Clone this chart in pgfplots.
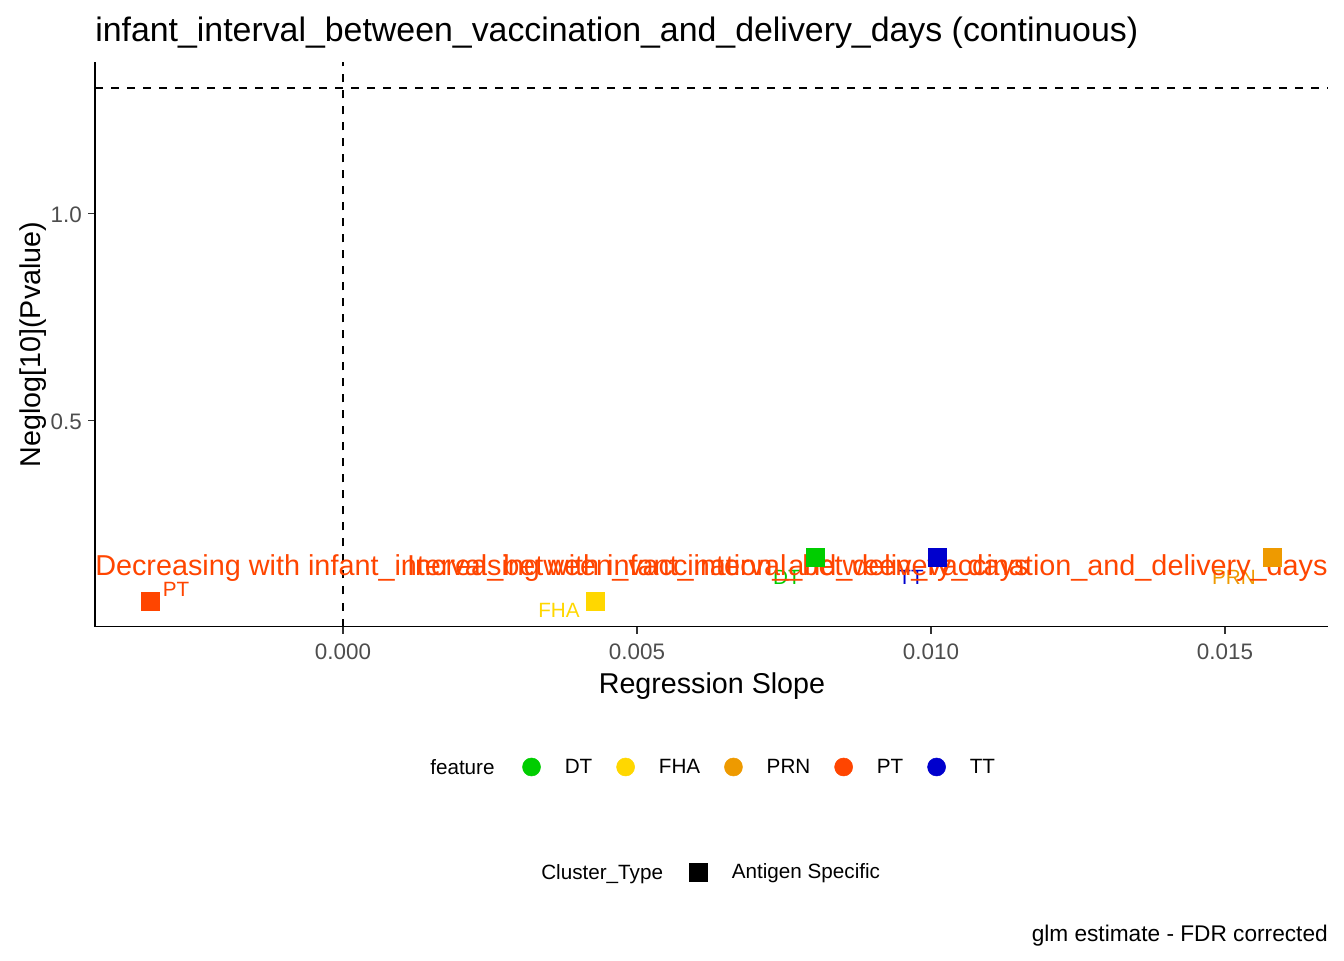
\documentclass[border=0pt]{standalone}
\usepackage{fontspec}
\setmainfont{Liberation Sans}
\usepackage{pgfplots}
\pgfplotsset{compat=1.18}
\definecolor{dtc}{HTML}{00CD00}
\definecolor{fhac}{HTML}{FFD700}
\definecolor{prnc}{HTML}{EE9A00}
\definecolor{ptc}{HTML}{FF4500}
\definecolor{ttc}{HTML}{0000CD}
\definecolor{tickgray}{HTML}{4D4D4D}
\begin{document}
\begin{tikzpicture}
\useasboundingbox (0,0) rectangle (1008pt,720pt);
\begin{axis}[
  at={(71.25pt,250.125pt)}, anchor=south west,
  scale only axis, width=924.75pt, height=423pt,
  xmin=-0.0042177, xmax=0.016752, ymin=0.0039, ymax=1.3636,
  clip=false,
  axis x line*=bottom, axis y line*=left,
  axis line style={-, line width=1.4pt, black},
  scaled x ticks=false, scaled y ticks=false,
  xtick={0,0.005,0.010,0.015}, xticklabels={0.000,0.005,0.010,0.015},
  ytick={0.5,1}, yticklabels={0.5,1.0},
  tick align=outside, major tick length=5.25pt,
  tick style={line width=1.1pt, black!80},
  ticklabel style={font=\fontsize{16.8}{19}\selectfont, text=tickgray, inner sep=0pt},
  xticklabel style={anchor=north, yshift=-7.5pt},
  yticklabel style={anchor=east, xshift=-4.5pt, yshift=-1pt},
  xlabel={Regression Slope},
  xlabel style={at={(axis description cs:0.5004,-0.1186)}, anchor=base, font=\fontsize{21.5}{25}\selectfont, inner sep=0pt},
  ylabel={Neglog[10](Pvalue)},
  ylabel style={at={(axis description cs:-0.0446,0.5)}, rotate=0, anchor=base, font=\fontsize{21.5}{25}\selectfont, inner sep=0pt},
  legend columns=-1,
  legend cell align=left,
  legend style={at={(0.3463,-0.2491)}, anchor=west, draw=none, fill=none, inner sep=0pt, column sep=18pt,
    nodes={inner sep=0pt, font=\fontsize{15.5}{18}\selectfont}},
]
% reference lines
\addplot[forget plot, black, line width=1.5pt, dash pattern=on 6pt off 6pt] coordinates {(0,0.0039) (0,1.3636)};
\addplot[forget plot, black, line width=1.5pt, dash pattern=on 6pt off 6pt] coordinates {(-0.0042177,1.30103) (0.016752,1.30103)};
% points
\addplot[forget plot, only marks, mark=square*, mark size=6.75pt, color=dtc] coordinates {(0.00804,0.1714)};
\addplot[forget plot, only marks, mark=square*, mark size=6.75pt, color=fhac] coordinates {(0.00429,0.0653)};
\addplot[forget plot, only marks, mark=square*, mark size=6.75pt, color=prnc] coordinates {(0.0158,0.1714)};
\addplot[forget plot, only marks, mark=square*, mark size=6.75pt, color=ptc] coordinates {(-0.00328,0.0653)};
\addplot[forget plot, only marks, mark=square*, mark size=6.75pt, color=ttc] coordinates {(0.0101,0.1714)};
% point labels
\node[font=\fontsize{15.5}{18}\selectfont, text=ptc, inner sep=0pt] at (axis cs:-0.00284,0.0943) {PT};
\node[font=\fontsize{15.5}{18}\selectfont, text=fhac, inner sep=0pt] at (axis cs:0.003673,0.0436) {FHA};
\node[font=\fontsize{15.5}{18}\selectfont, text=dtc, inner sep=0pt] at (axis cs:0.007551,0.1232) {DT};
\node[font=\fontsize{15.5}{18}\selectfont, text=ttc, inner sep=0pt] at (axis cs:0.00966,0.1232) {TT};
\node[font=\fontsize{15.5}{18}\selectfont, text=prnc, inner sep=0pt] at (axis cs:0.015153,0.1232) {PRN};
% annotations
\node[anchor=base west, inner sep=0pt, font=\fontsize{21.6}{25}\selectfont, text=ptc] at (axis cs:-0.0042177,0.128) {Decreasing with infant\_interval\_between\_vaccination\_and\_delivery\_days};
\node[anchor=base east, inner sep=0pt, font=\fontsize{21.6}{25}\selectfont, text=ptc] at (axis cs:0.016752,0.128) {Increasing with infant\_interval\_between\_vaccination\_and\_delivery\_days};
% legend
\addlegendimage{legend image code/.code={\fill[dtc] (6.75pt,0pt) circle[radius=6.75pt];}}
\addlegendentry{DT}
\addlegendimage{legend image code/.code={\fill[fhac] (6.75pt,0pt) circle[radius=6.75pt];}}
\addlegendentry{FHA}
\addlegendimage{legend image code/.code={\fill[prnc] (6.75pt,0pt) circle[radius=6.75pt];}}
\addlegendentry{PRN}
\addlegendimage{legend image code/.code={\fill[ptc] (6.75pt,0pt) circle[radius=6.75pt];}}
\addlegendentry{PT}
\addlegendimage{legend image code/.code={\fill[ttc] (6.75pt,0pt) circle[radius=6.75pt];}}
\addlegendentry{TT}
\end{axis}
\begin{axis}[
  at={(71.25pt,250.125pt)}, anchor=south west,
  scale only axis, width=924.75pt, height=423pt,
  xmin=0, xmax=1, ymin=0, ymax=1, hide axis,
  legend columns=-1,
  legend cell align=left,
  legend style={at={(0.4818,-0.4353)}, anchor=west, draw=none, fill=none, inner sep=0pt, column sep=18pt,
    nodes={inner sep=0pt, font=\fontsize{15.5}{18}\selectfont}},
]
\addlegendimage{legend image code/.code={\fill[black] (0pt,-6.75pt) rectangle (13.5pt,6.75pt);}}
\addlegendentry{Antigen Specific}
\end{axis}
\node[anchor=base west, inner sep=0pt, font=\fontsize{25.4}{30}\selectfont] at (71.25pt,688.5pt) {infant\_interval\_between\_vaccination\_and\_delivery\_days (continuous)};
\node[anchor=base west, inner sep=0pt, font=\fontsize{15.5}{18}\selectfont] at (322.5pt,139.1pt) {feature};
\node[anchor=base west, inner sep=0pt, font=\fontsize{15.5}{18}\selectfont] at (405.75pt,60.4pt) {Cluster\_Type};
\node[anchor=base east, inner sep=0pt, font=\fontsize{17}{20}\selectfont] at (996pt,14.25pt) {glm estimate - FDR corrected};
\end{tikzpicture}
\end{document}
